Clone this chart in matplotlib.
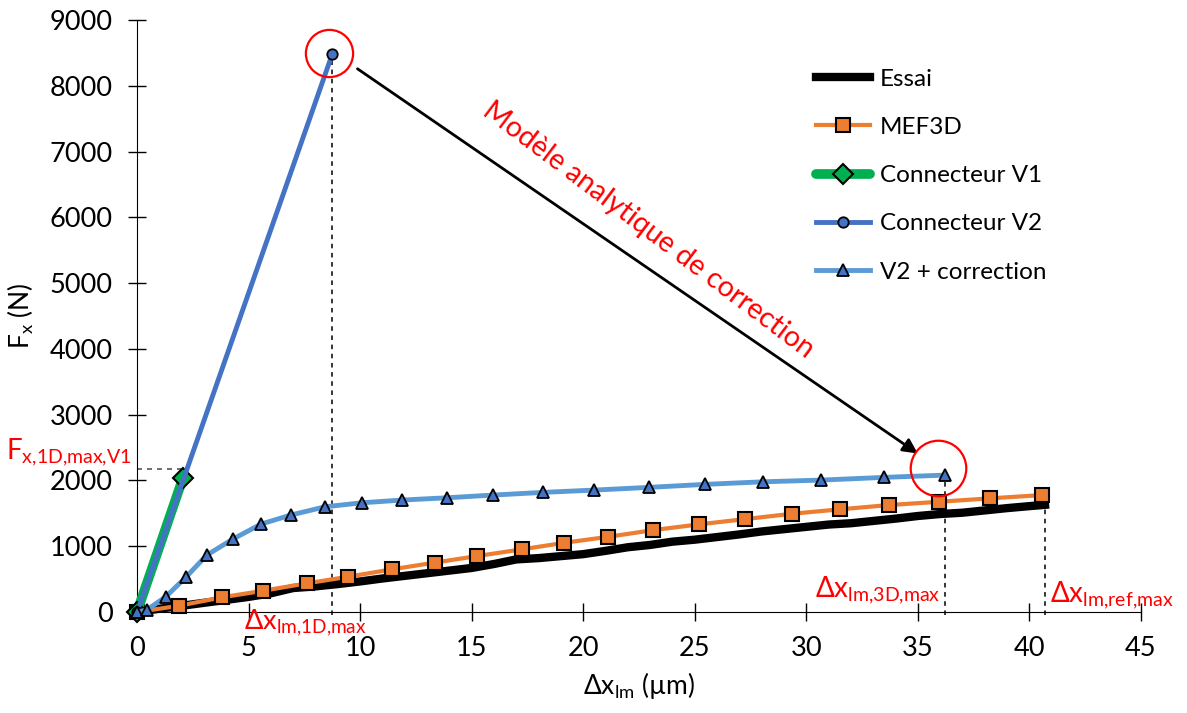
import matplotlib
matplotlib.use("Agg")
import matplotlib.pyplot as plt

plt.rcParams['font.family'] = ['Lato', 'DejaVu Sans']
plt.rcParams['mathtext.fontset'] = 'custom'
plt.rcParams['mathtext.rm'] = 'Lato'

# data (dx in um, Fx in N)
essai_x = [0, 1, 2, 3, 4, 5, 6, 7, 8, 9, 10, 11, 12, 13, 14, 15, 16, 17, 18, 19, 20,
           21, 22, 23, 24, 25, 26, 27, 28, 29, 30, 31, 32, 33, 34, 35, 36, 37, 38, 39, 40, 40.7]
essai_y = [0, 50, 95, 140, 185, 230, 285, 365, 390, 425, 465, 510, 550, 590, 630, 670, 730,
           800, 820, 850, 880, 930, 985, 1020, 1070, 1100, 1140, 1180, 1225, 1260, 1295, 1330,
           1350, 1385, 1420, 1460, 1490, 1510, 1545, 1580, 1610, 1630]

mef_x = [0, 1.9, 3.8, 5.66, 7.61, 9.48, 11.42, 13.36, 15.25, 17.25, 19.16, 21.13, 23.15,
         25.2, 27.26, 29.36, 31.49, 33.69, 35.93, 38.22, 40.57]
mef_y = [0, 96, 223, 324, 436, 537, 649, 752, 851, 953, 1053, 1144, 1246, 1333, 1413,
         1494, 1561, 1626, 1676, 1728, 1778]

v1_x = [0, 2.06]
v1_y = [0, 2036]

v2_x = [0, 8.75]
v2_y = [0, 8480]

corr_x = [0, 0.43, 1.29, 2.2, 3.13, 4.3, 5.56, 6.89, 8.43, 10.08, 11.87, 13.89, 15.95,
          18.19, 20.5, 22.93, 25.47, 28.06, 30.67, 33.47, 36.23]
corr_y = [0, 30, 232, 532, 866, 1109, 1337, 1474, 1600, 1661, 1702, 1737, 1778, 1819,
          1854, 1895, 1941, 1980, 2006, 2047, 2082]

fx_1d_max_v1 = 2170
dx_1d_max = 8.75
dx_3d_max = 36.23
dx_ref_max = 40.7

fig = plt.figure(figsize=(11.87, 7.13), dpi=100)
ax = fig.add_axes([0.1154, 0.1416, 0.8458, 0.8303])

# guide lines
ax.plot([0, v1_x[1]], [fx_1d_max_v1, fx_1d_max_v1], ls=(0, (3, 3)), color='#555555', lw=1.2, zorder=1)
ax.plot([dx_1d_max, dx_1d_max], [-40, v2_y[1]], ls=(0, (3, 3)), color='black', lw=1.1, zorder=1, clip_on=False)
ax.plot([dx_3d_max, dx_3d_max], [-40, corr_y[-1]], ls=(0, (3, 3)), color='black', lw=1.1, zorder=1, clip_on=False)
ax.plot([dx_ref_max, dx_ref_max], [-40, essai_y[-1]], ls=(0, (3, 3)), color='black', lw=1.1, zorder=1, clip_on=False)

ax.plot(essai_x, essai_y, color='black', lw=6, solid_joinstyle='miter', label='Essai', zorder=3,
        clip_on=False)
ax.plot(mef_x, mef_y, color='#ED7D31', lw=3, marker='s', ms=10, mfc='#ED7D31', mec='black',
        mew=1.5, label='MEF3D', zorder=4, clip_on=False)
ax.plot(v1_x, v1_y, color='#00B050', lw=7, marker='D', ms=10, mfc='#00B050', mec='black',
        mew=1.5, label='Connecteur V1', zorder=5, solid_capstyle='round', clip_on=False)
ax.plot(v2_x, v2_y, color='#4472C4', lw=3.5, marker='o', ms=7.5, mfc='#4472C4', mec='black',
        mew=1.3, label='Connecteur V2', zorder=6, clip_on=False)
ax.plot(corr_x, corr_y, color='#5B9BD5', lw=3.5, marker='^', ms=9, mfc='#4472C4', mec='black',
        mew=1.3, label='V2 + correction', zorder=6, clip_on=False)

# highlight circles
ax.plot([8.61], [8495], 'o', ms=34, mfc='none', mec='red', mew=1.6, zorder=7, clip_on=False)
ax.plot([35.92], [2188], 'o', ms=40, mfc='none', mec='red', mew=1.6, zorder=7, clip_on=False)

ax.annotate('', xy=(35.1, 2386), xytext=(9.78, 8283),
            arrowprops=dict(arrowstyle='-|>', color='black', lw=2, mutation_scale=22))
ax.text(22.9, 5805, 'Modèle analytique de correction', color='red', fontsize=20.5,
        rotation=-37, rotation_mode='anchor', ha='center', va='center')

ax.text(-5.85, 2430, r'$\mathregular{F_{x{,}1D{,}max{,}V1}}$', color='red', fontsize=20,
        ha='left', va='center', clip_on=False)
ax.text(4.8, -155, r'$\mathregular{\Delta x_{lm{,}1D{,}max}}$', color='red', fontsize=19.5,
        ha='left', va='center', clip_on=False)
ax.text(36.0, 330, r'$\mathregular{\Delta x_{lm{,}3D{,}max}}$', color='red', fontsize=20,
        ha='right', va='center')
ax.text(40.94, 260, r'$\mathregular{\Delta x_{lm{,}ref{,}max}}$', color='red', fontsize=20,
        ha='left', va='center', clip_on=False)

ax.set_xlim(0, 45)
ax.set_ylim(0, 9000)
ax.set_xticks(range(0, 46, 5))
ax.set_yticks(range(0, 9001, 1000))
ax.tick_params(direction='inout', length=13, width=1, labelsize=19.5, pad=11)
ax.tick_params(axis='y', pad=11)
for s in ['top', 'right']:
    ax.spines[s].set_visible(False)

ax.set_xlabel(r'$\mathregular{\Delta x_{lm}}$ (µm)', fontsize=19, labelpad=6)
ax.set_ylabel(r'$\mathregular{F_x}$ (N)', fontsize=19, labelpad=10)

ax.legend(loc='upper left', bbox_to_anchor=(0.655, 0.955), frameon=False, fontsize=17.5,
          handlelength=2.2, labelspacing=1.12, handletextpad=0.4)

fig.savefig('out.png', dpi=100)
